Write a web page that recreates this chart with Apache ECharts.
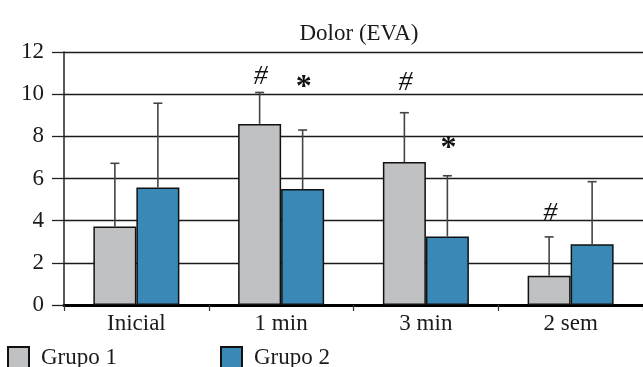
<!DOCTYPE html>
<html>
<head>
<meta charset="utf-8">
<script src="https://cdn.jsdelivr.net/npm/echarts@6/dist/echarts.min.js"></script>
<style>html,body{margin:0;padding:0;background:#fff}#c{width:643px;height:367px}</style>
</head>
<body>
<div id="c"></div>
<script>
var categories = ['Inicial', '1 min', '3 min', '2 sem'];
var grupo1 = [3.72, 8.59, 6.78, 1.39];
var grupo2 = [5.57, 5.5, 3.25, 2.88];
var grupo1Upper = [6.72, 10.08, 9.12, 3.23];
var grupo2Upper = [9.57, 8.3, 6.13, 5.85];
var yTicks = [0, 2, 4, 6, 8, 10, 12];
var annotCat = [1, 2, 3, 1, 2];
var annotGroup = [0, 0, 0, 1, 1];
var annotY = [10.89, 10.6, 4.4, 10.65, 7.76];
var annotText = ['#', '#', '#', '*', '*'];

var FONT = '"Liberation Serif", "Times New Roman", serif';
var BAR_W = 43;
var GREY = '#c0c1c3', BLUE = '#3a88b5';

function errData(vals, up) {
  return vals.map(function (v, i) { return [i, v, up[i]]; });
}
function errSeries(vals, up, sign) {
  return {
    type: 'custom', silent: true, z: 5,
    data: errData(vals, up),
    renderItem: function (params, api) {
      var p0 = api.coord([api.value(0), api.value(1)]);
      var p1 = api.coord([api.value(0), api.value(2)]);
      var x = p0[0] + sign * BAR_W / 2;
      var st = { stroke: '#444', lineWidth: 1.6 };
      return { type: 'group', children: [
        { type: 'line', shape: { x1: x, y1: p0[1], x2: x, y2: p1[1] }, style: st },
        { type: 'line', shape: { x1: x - 4.5, y1: p1[1], x2: x + 4.5, y2: p1[1] }, style: st }
      ]};
    }
  };
}
var annotData = annotCat.map(function (c, i) { return [c, annotY[i], annotGroup[i]]; });

var chart = echarts.init(document.getElementById('c'));
chart.setOption({
  animation: false,
  title: { text: 'Dolor (EVA)', left: 354, textAlign: 'center', top: 17,
    textStyle: { fontFamily: FONT, fontSize: 23, fontWeight: 'normal', color: '#1a1a1a' } },
  grid: { left: 64, right: -2, top: 52, bottom: 62, containLabel: false },
  legend: [
    { left: 7, top: 346, padding: [0, 0, 0, 0], itemWidth: 21, itemHeight: 22, itemGap: 0, icon: 'rect', data: ['Grupo 1'],
      textStyle: { fontFamily: FONT, fontSize: 23, color: '#1a1a1a', padding: [0, 0, 0, 7] } },
    { left: 220, top: 346, padding: [0, 0, 0, 0], itemWidth: 21, itemHeight: 22, itemGap: 0, icon: 'rect', data: ['Grupo 2'],
      textStyle: { fontFamily: FONT, fontSize: 23, color: '#1a1a1a', padding: [0, 0, 0, 7] } }
  ],
  xAxis: {
    type: 'category', data: categories, boundaryGap: true,
    axisLine: { lineStyle: { color: '#000', width: 3 } },
    axisTick: { show: true, length: 6, lineStyle: { color: '#333', width: 1.2 } },
    axisLabel: { fontFamily: FONT, fontSize: 23, color: '#1a1a1a', margin: 7 }
  },
  yAxis: {
    type: 'value', min: yTicks[0], max: yTicks[yTicks.length - 1], interval: 2,
    axisLine: { show: true, lineStyle: { color: '#222', width: 1.5 } },
    axisTick: { show: true, length: 12, lineStyle: { color: '#222', width: 1.3 } },
    axisLabel: { fontFamily: FONT, fontSize: 23, color: '#1a1a1a', margin: 20 },
    splitLine: { show: true, lineStyle: { color: '#1a1a1a', width: 1.3 } }
  },
  series: [
    { name: 'Grupo 1', type: 'bar', data: grupo1, barWidth: BAR_W, barGap: 0,
      itemStyle: { color: GREY, borderColor: '#111', borderWidth: 1.5 } },
    { name: 'Grupo 2', type: 'bar', data: grupo2, barWidth: BAR_W, barGap: 0,
      itemStyle: { color: BLUE, borderColor: '#111', borderWidth: 1.5 } },
    errSeries(grupo1, grupo1Upper, -1),
    errSeries(grupo2, grupo2Upper, 1),
    { type: 'custom', silent: true, z: 6, data: annotData,
      renderItem: function (params, api) {
        var p = api.coord([api.value(0), api.value(1)]);
        var g = api.value(2);
        var txt = annotText[params.dataIndex];
        var isStar = txt === '*';
        return { type: 'text', style: {
          x: p[0] + (g === 0 ? -1 : 1) * BAR_W / 2 + 1, y: p[1] + (isStar ? 7 : 1),
          text: txt, textAlign: 'center', textVerticalAlign: 'middle',
          font: (isStar ? 'bold 32px ' : 'italic 28px ') + FONT, fill: '#111'
        }};
      }
    }
  ]
});
</script>
</body>
</html>
